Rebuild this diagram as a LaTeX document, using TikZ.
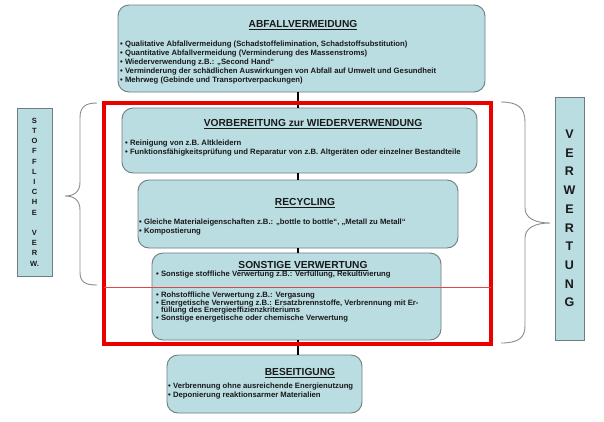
\documentclass[tikz,border=0pt]{standalone}
\usepackage{fontspec}
\setmainfont{Liberation Sans}
\definecolor{boxfill}{RGB}{186,221,226}
\definecolor{boxline}{RGB}{110,125,128}
\definecolor{txt}{RGB}{25,25,25}
\definecolor{bracecol}{RGB}{140,140,140}
\definecolor{redframe}{RGB}{235,0,0}
\definecolor{thinred}{RGB}{225,70,70}
\begin{document}
\begin{tikzpicture}[x=1pt,y=-1pt,
  box/.style={draw=boxline, fill=boxfill, rounded corners=11pt, line width=0.9pt, inner sep=0pt},
  sidebox/.style={draw=boxline, fill=boxfill, line width=0.9pt, inner sep=0pt},
  ttl/.style={font=\fontsize{10.2}{12}\selectfont\bfseries, text=txt, inner sep=0pt},
  body/.style={font=\fontsize{7.7}{9}\selectfont\bfseries, text=txt, align=left, anchor=north west, inner sep=0pt},
  conn/.style={draw=black, line width=1.3pt},
  brace/.style={draw=bracecol, line width=0.9pt},
  letters/.style={text=txt, align=center, inner sep=0pt}
]
\useasboundingbox (0,0) rectangle (604,421);
\fill[white] (0,0) rectangle (604,421);

% boxes
\node[box, minimum width=367pt, minimum height=87pt] (abf) at (301.5,48.5) {};
\node[box, minimum width=355pt, minimum height=65pt] (vor) at (299.5,140.5) {};
\node[box, minimum width=320pt, minimum height=68pt] (rec) at (298,214) {};
\node[box, minimum width=289pt, minimum height=87pt] (son) at (296.5,296.5) {};
\node[box, minimum width=195pt, minimum height=58pt] (bes) at (264.5,384) {};

% connectors
\draw[conn] ([xshift=-3.5pt]abf.south) -- ([xshift=-3.5pt]abf.south |- vor.north);
\draw[conn] ([xshift=-1.5pt]vor.south) -- ([xshift=-1.5pt]vor.south |- rec.north);
\draw[conn] (rec.south) -- (rec.south |- son.north);
\draw[conn] ([xshift=1.5pt]son.south) -- ([xshift=1.5pt]son.south |- bes.north);

% red frame
\node[draw=redframe, line width=4.5pt, minimum width=387pt, minimum height=241pt, inner sep=0pt] (frame) at (297.5,223.5) {};
\draw[thinred, line width=0.8pt] ([xshift=2.5pt,yshift=-63.5pt]frame.west) coordinate (tl) -- ([xshift=-2.5pt,yshift=-63.5pt]frame.east) coordinate (tr);

% titles
\node[ttl] (abft) at (303,25) {\underline{ABFALLVERMEIDUNG}};
\node[ttl] (vort) at (313,124) {\underline{VORBEREITUNG zur WIEDERVERWENDUNG}};
\node[ttl] (rect) at (305,203) {\underline{RECYCLING}};
\node[ttl] (sont) at (303,266) {\underline{SONSTIGE VERWERTUNG}};
\node[ttl] (best) at (300,373) {\underline{BESEITIGUNG}};

% bodies
\node[body] (abfb) at (120,41) {• Qualitative Abfallvermeidung (Schadstoffelimination, Schadstoffsubstitution)\\
• Quantitative Abfallvermeidung (Verminderung des Massenstroms)\\
• Wiederverwendung z.B.: „Second Hand“\\
• Verminderung der schädlichen Auswirkungen von Abfall auf Umwelt und Gesundheit\\
• Mehrweg (Gebinde und Transportverpackungen)};
\node[body] (vorb) at (125,140) {• Reinigung von z.B. Altkleidern\\
• Funktionsfähigkeitsprüfung und Reparatur von z.B. Altgeräten oder einzelner Bestandteile};
\node[body] (recb) at (139,219) {• Gleiche Materialeigenschaften z.B.: „bottle to bottle“, „Metall zu Metall“\\
• Kompostierung};
\node[body] (sonb1) at (156,271) {• Sonstige stoffliche Verwertung z.B.: Verfüllung, Rekultivierung};
\node[body, font=\fontsize{7.7}{7.6}\selectfont\bfseries] (sonb2) at (156,292) {• Rohstoffliche Verwertung z.B.: Vergasung\\
• Energetische Verwertung z.B.: Ersatzbrennstoffe, Verbrennung mit Er-\\
\phantom{• }füllung des Energieeffizienzkriteriums\\
• Sonstige energetische oder chemische Verwertung};
\node[body] (besb) at (168,383) {• Verbrennung ohne ausreichende Energienutzung\\
• Deponierung reaktionsarmer Materialien};

% side boxes
\node[sidebox, minimum width=35pt, minimum height=168pt] (lbox) at (34.5,192) {};
\node[letters, font=\fontsize{7.5}{10.2}\selectfont\bfseries] (ltxt) at (lbox.center) {S\\T\\O\\F\\F\\L\\I\\C\\H\\E\\[10.2pt]V\\E\\R\\W.};
\node[sidebox, minimum width=29pt, minimum height=243pt] (rbox) at (569.5,218.5) {};
\node[letters, font=\fontsize{12.5}{18.7}\selectfont\bfseries] (rtxt) at (rbox.center) {V\\E\\R\\W\\E\\R\\T\\U\\N\\G};

% braces
\draw[brace] (97,103) .. controls (85,103) and (80,107) .. (80,118) -- (80,182)
  .. controls (80,192) and (74,196) .. (65,196)
  .. controls (74,196) and (80,200) .. (80,210) -- (80,272)
  .. controls (80,282) and (85,285) .. (97,285);
\draw[brace] (501,102) .. controls (518,102) and (525,108) .. (525,122) -- (525,208)
  .. controls (525,218) and (535,223) .. (550,223)
  .. controls (535,223) and (525,228) .. (525,238) -- (525,326)
  .. controls (525,338) and (518,343) .. (501,343);
\end{tikzpicture}
\end{document}
